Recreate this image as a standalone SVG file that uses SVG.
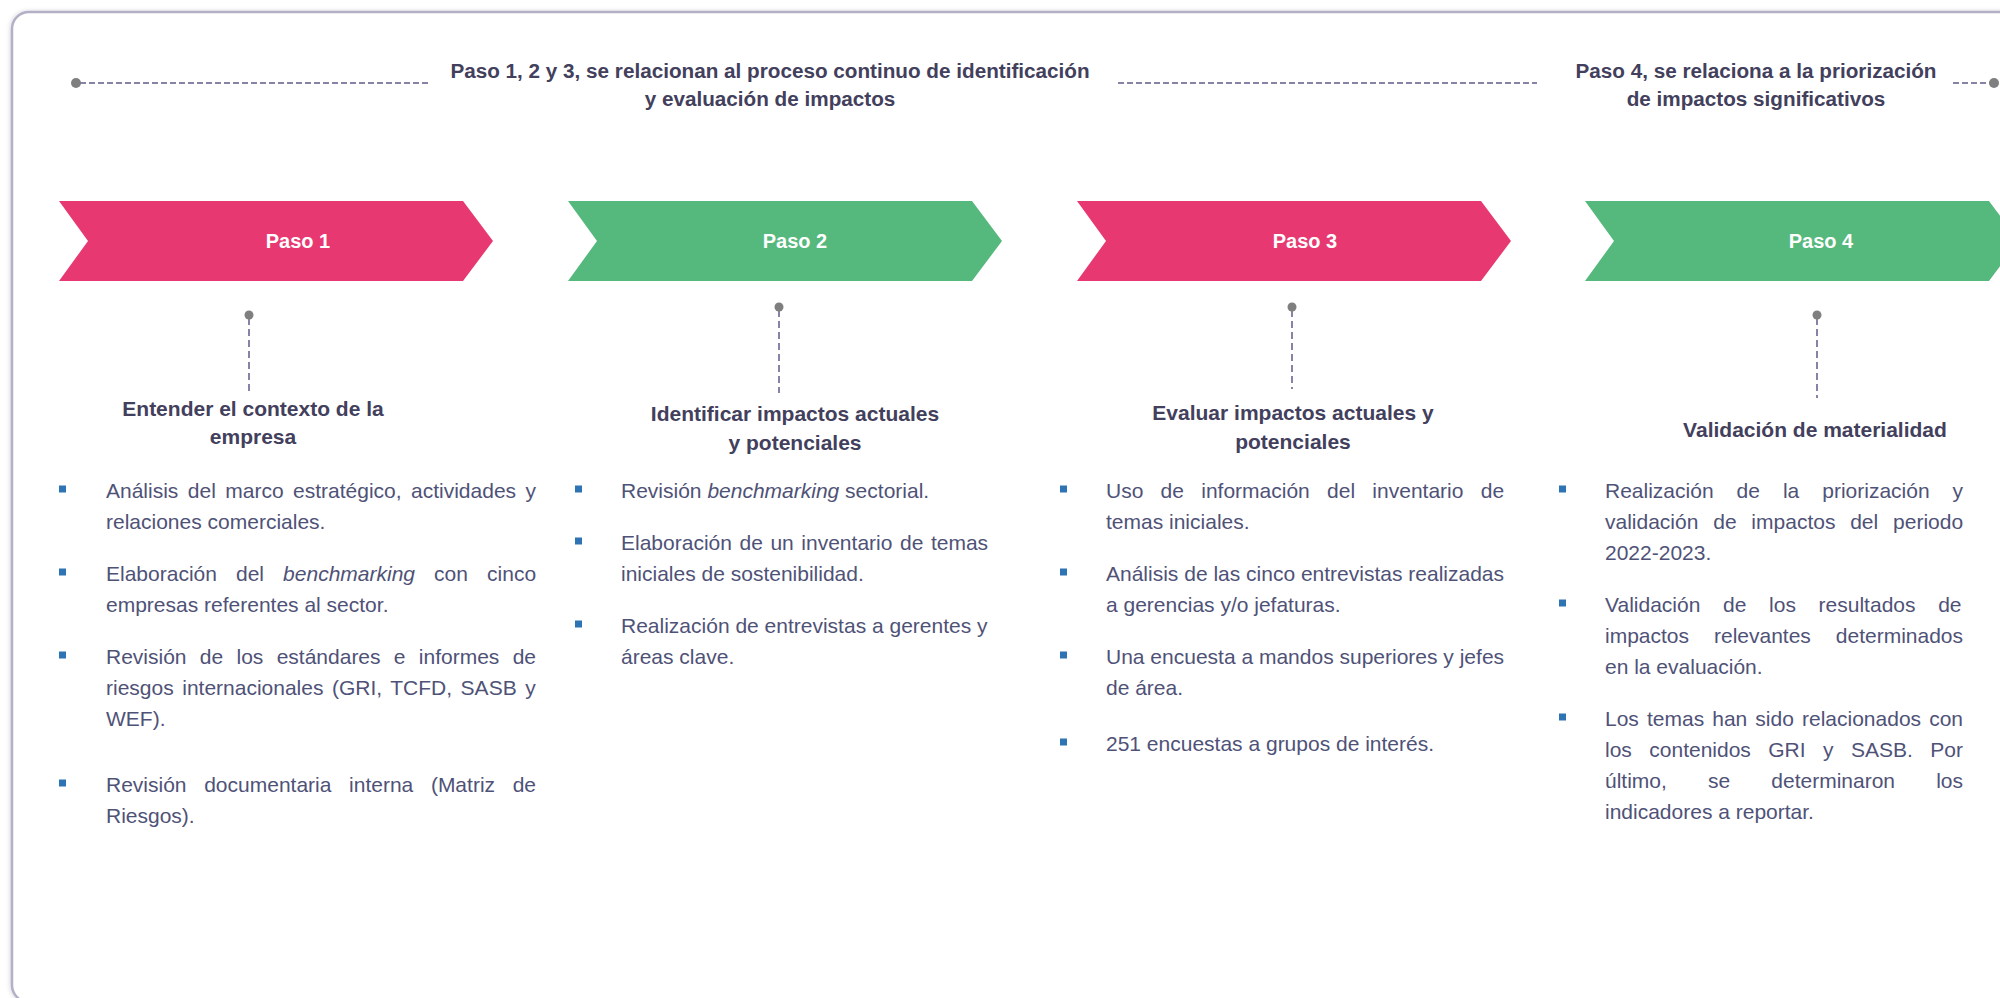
<svg xmlns="http://www.w3.org/2000/svg" width="2000" height="998" viewBox="0 0 2000 998">
<defs>
<filter id="sh" x="-5%" y="-5%" width="110%" height="110%">
<feDropShadow dx="-1" dy="0" stdDeviation="2" flood-color="#9a98aa" flood-opacity="0.35"/>
</filter>
<style>
.frame{fill:#ffffff;stroke:#b4b1c6;stroke-width:2.5}
.ttl{font-family:"Liberation Sans",Arial,sans-serif;font-weight:bold;font-size:20.7px;fill:#42405c;text-anchor:middle}
.hd{font-family:"Liberation Sans",Arial,sans-serif;font-weight:bold;font-size:21px;fill:#42405c;text-anchor:middle}
.b{font-family:"Liberation Sans",Arial,sans-serif;font-size:21px;fill:#4f5277}
.lbl{font-family:"Liberation Sans",Arial,sans-serif;font-weight:bold;font-size:20px;fill:#ffffff;text-anchor:middle}
.pink{fill:#e83871}
.green{fill:#55b87c}
.dash{stroke:#8583a6;stroke-width:2;stroke-dasharray:7 4;fill:none}
.hdash{stroke:#8583a6;stroke-width:2;stroke-dasharray:6 3;fill:none}
.dot{fill:#7f7f7f}
.bul{fill:#2e74b5}
</style>
</defs>
<rect class="frame" x="12" y="12" width="2010" height="990" rx="17" filter="url(#sh)"/>

<g id="connectors">
<line class="hdash" x1="80" y1="83" x2="430" y2="83"/>
<circle class="dot" cx="76" cy="83" r="5"/>
<line class="hdash" x1="1118" y1="83" x2="1537" y2="83"/>
<line class="hdash" x1="1953" y1="83" x2="1990" y2="83"/>
<circle class="dot" cx="1994" cy="83" r="5"/>
<line class="dash" x1="249" y1="318" x2="249" y2="393"/>
<circle class="dot" cx="249" cy="315" r="4.5"/>
<line class="dash" x1="779" y1="310" x2="779" y2="393"/>
<circle class="dot" cx="779" cy="307" r="4.5"/>
<line class="dash" x1="1292" y1="310" x2="1292" y2="389"/>
<circle class="dot" cx="1292" cy="307" r="4.5"/>
<line class="dash" x1="1817" y1="318" x2="1817" y2="398"/>
<circle class="dot" cx="1817" cy="315" r="4.5"/>
</g>

<g id="header-1">
<text class="ttl" x="770" y="78">Paso 1, 2 y 3, se relacionan al proceso continuo de identificación</text>
<text class="ttl" x="770" y="106">y evaluación de impactos</text>
</g>
<g id="header-2">
<text class="ttl" x="1756" y="78">Paso 4, se relaciona a la priorización</text>
<text class="ttl" x="1756" y="106">de impactos significativos</text>
</g>

<g id="step1">
<polygon class="pink" points="59,201 463,201 493,241 463,281 59,281 88,241"/>
<text class="lbl" x="298" y="248">Paso 1</text>
</g>
<g id="step2">
<polygon class="green" points="568,201 972,201 1002,241 972,281 568,281 597,241"/>
<text class="lbl" x="795" y="248">Paso 2</text>
</g>
<g id="step3">
<polygon class="pink" points="1077,201 1481,201 1511,241 1481,281 1077,281 1106,241"/>
<text class="lbl" x="1305" y="248">Paso 3</text>
</g>
<g id="step4">
<polygon class="green" points="1585,201 1989,201 2019,241 1989,281 1585,281 1614,241"/>
<text class="lbl" x="1821" y="248">Paso 4</text>
</g>

<g id="detail1">
<text class="hd" x="253" y="416">Entender el contexto de la</text>
<text class="hd" x="253" y="444">empresa</text>
<rect class="bul" x="59" y="485.5" width="7" height="7"/>
<rect class="bul" x="59" y="568.5" width="7" height="7"/>
<rect class="bul" x="59" y="651.5" width="7" height="7"/>
<rect class="bul" x="59" y="779.5" width="7" height="7"/>
<text class="b" x="106" y="498" word-spacing="3.6">Análisis del marco estratégico, actividades y</text>
<text class="b" x="106" y="529">relaciones comerciales.</text>
<text class="b" x="106" y="581" word-spacing="13.25">Elaboración del <tspan font-style="italic">benchmarking</tspan> con cinco</text>
<text class="b" x="106" y="612">empresas referentes al sector.</text>
<text class="b" x="106" y="664" word-spacing="7.47">Revisión de los estándares e informes de</text>
<text class="b" x="106" y="695" word-spacing="2.68">riesgos internacionales (GRI, TCFD, SASB y</text>
<text class="b" x="106" y="726">WEF).</text>
<text class="b" x="106" y="792" word-spacing="11.8">Revisión documentaria interna (Matriz de</text>
<text class="b" x="106" y="823">Riesgos).</text>
</g>

<g id="detail2">
<text class="hd" x="795" y="421">Identificar impactos actuales</text>
<text class="hd" x="795" y="450">y potenciales</text>
<rect class="bul" x="575" y="485.5" width="7" height="7"/>
<rect class="bul" x="575" y="537.5" width="7" height="7"/>
<rect class="bul" x="575" y="620.5" width="7" height="7"/>
<text class="b" x="621" y="498">Revisión <tspan font-style="italic">benchmarking</tspan> sectorial.</text>
<text class="b" x="621" y="550" word-spacing="1.74">Elaboración de un inventario de temas</text>
<text class="b" x="621" y="581">iniciales de sostenibilidad.</text>
<text class="b" x="621" y="633">Realización de entrevistas a gerentes y</text>
<text class="b" x="621" y="664">áreas clave.</text>
</g>

<g id="detail3">
<text class="hd" x="1293" y="420">Evaluar impactos actuales y</text>
<text class="hd" x="1293" y="449">potenciales</text>
<rect class="bul" x="1060" y="485.5" width="7" height="7"/>
<rect class="bul" x="1060" y="568.5" width="7" height="7"/>
<rect class="bul" x="1060" y="651.5" width="7" height="7"/>
<rect class="bul" x="1060" y="738.5" width="7" height="7"/>
<text class="b" x="1106" y="498" word-spacing="11.44">Uso de información del inventario de</text>
<text class="b" x="1106" y="529">temas iniciales.</text>
<text class="b" x="1106" y="581">Análisis de las cinco entrevistas realizadas</text>
<text class="b" x="1106" y="612">a gerencias y/o jefaturas.</text>
<text class="b" x="1106" y="664">Una encuesta a mandos superiores y jefes</text>
<text class="b" x="1106" y="695">de área.</text>
<text class="b" x="1106" y="751">251 encuestas a grupos de interés.</text>
</g>

<g id="detail4">
<text class="hd" x="1815" y="437">Validación de materialidad</text>
<rect class="bul" x="1559" y="485.5" width="7" height="7"/>
<rect class="bul" x="1559" y="599.5" width="7" height="7"/>
<rect class="bul" x="1559" y="713.5" width="7" height="7"/>
<text class="b" x="1605" y="498" word-spacing="17.15">Realización de la priorización y</text>
<text class="b" x="1605" y="529" word-spacing="8.97">validación de impactos del periodo</text>
<text class="b" x="1605" y="560">2022-2023.</text>
<text class="b" x="1605" y="612" word-spacing="16.85">Validación de los resultados de</text>
<text class="b" x="1605" y="643" word-spacing="19.1">impactos relevantes determinados</text>
<text class="b" x="1605" y="674">en la evaluación.</text>
<text class="b" x="1605" y="726" word-spacing="2.26">Los temas han sido relacionados con</text>
<text class="b" x="1605" y="757" word-spacing="11.6">los contenidos GRI y SASB. Por</text>
<text class="b" x="1605" y="788" word-spacing="35.3">último, se determinaron los</text>
<text class="b" x="1605" y="819">indicadores a reportar.</text>
</g>
</svg>
